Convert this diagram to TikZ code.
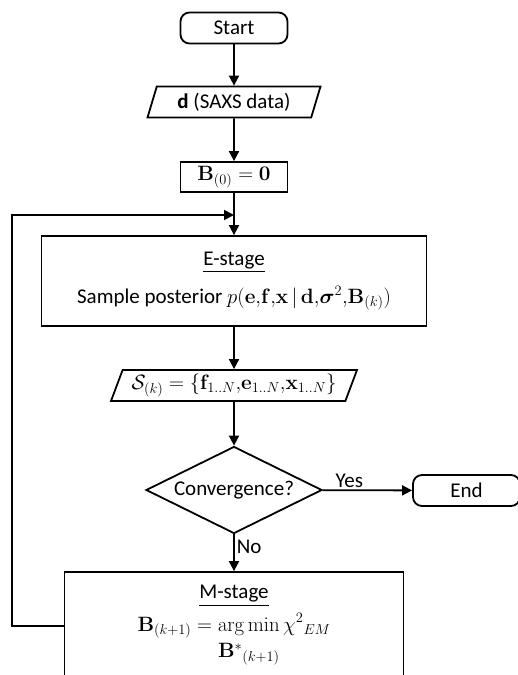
\documentclass[tikz,border=0pt]{standalone}
\usepackage{amsmath}
\usepackage[no-math]{fontspec}
\setmainfont{Carlito}
\usetikzlibrary{shapes.geometric}
\usetikzlibrary{arrows.meta}

\tikzset{
 base/.style={draw, line width=1.8pt, font=\fontsize{21}{25}\selectfont, align=center},
 terminal/.style={base, rounded corners=9pt, minimum width=107pt, minimum height=31pt, inner sep=0},
 io/.style={base, trapezium, trapezium left angle=63, trapezium right angle=117, trapezium stretches body=true, minimum height=31pt, inner sep=0},
 process/.style={base, rectangle, inner sep=0},
 decision/.style={base, diamond, aspect=2, minimum width=176pt, minimum height=87pt, inner sep=0},
 flow/.style={line width=1.8pt, -{Triangle[length=10pt,width=10pt]}},
 tag/.style={font=\fontsize{21}{25}\selectfont, inner sep=2pt}
}

\begin{document}
\begin{tikzpicture}[x=1pt, y=-1pt]
\useasboundingbox (0,0) rectangle (517,675);
% boxes, top to bottom
\node[terminal] (start) at (234,28) {Start};
\node[io, minimum width=173pt] (data) at (234,102) {\textbf{d} (SAXS data)};
\node[process, minimum width=107pt, minimum height=30pt] (init) at (234,177) {$\mathbf{B}_{(0)} = \mathbf{0}$};
\node[process, minimum width=385pt, minimum height=90pt] (estage) at (234,281)
 {\underline{E-stage}\\[13pt] Sample posterior $p(\mathbf{e}{,}\mathbf{f}{,}\mathbf{x}\,|\,\mathbf{d}{,}\boldsymbol{\sigma}^2{,}\mathbf{B}_{(k)})$};
\node[io, minimum width=246pt] (samples) at (234,385.5) {$\mathcal{S}_{(k)} = \{\mathbf{f}_{1..N}{,}\mathbf{e}_{1..N}{,}\mathbf{x}_{1..N}\}$};
\node[decision] (conv) at (234,490) {Convergence?};
\node[terminal] (finish) at (466.5,490.5) {End};
\node[process, minimum width=339pt, minimum height=108pt] (mstage) at (234,626)
 {\underline{M-stage}\\[6pt] $\displaystyle \mathbf{B}_{(k+1)} = \operatorname*{arg\,min}_{\textstyle\rule{0pt}{19pt}\mathbf{B}^{*}{}_{(k+1)}} \chi^{2}{}_{EM}$};
% connectors
\foreach \a/\b in {start/data, data/init, init/estage, estage/samples, samples/conv}
 \draw[flow] (\a) -- (\b);
\draw[flow] (conv) -- (finish) node[tag, above, pos=0.3] {Yes};
\draw[flow] (conv) -- (mstage) node[tag, right, pos=0.35] {No};
% loop back
\coordinate (join) at (234,215);
\coordinate (back) at (12,215);
\draw[flow] (mstage.west) -| (back) -- (join);
\end{tikzpicture}
\end{document}
